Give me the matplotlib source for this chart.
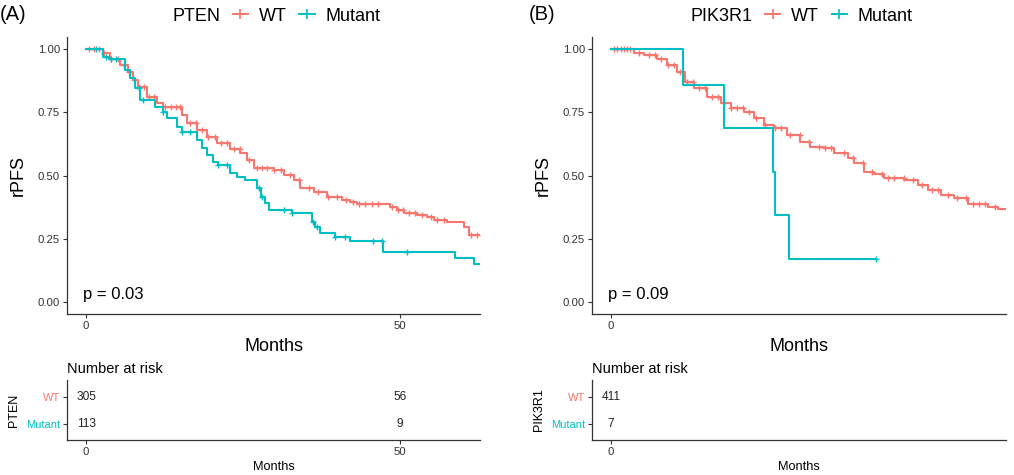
import numpy as np
import matplotlib
matplotlib.use('Agg')
import matplotlib.pyplot as plt
from matplotlib.lines import Line2D

plt.rcParams['font.family'] = ['Liberation Sans', 'DejaVu Sans']

red = '#F8766D'
teal = '#00BFC4'

# ---- PTEN panel (A), step curves ----
pten_wt_t = [0, 2.7, 3.8, 5.4, 6.7, 7.5, 8.3, 9.7, 11.3, 12.3, 12.9, 15.3, 16.1, 17.7, 19.3,
             20.8, 23.0, 24.6, 25.6, 26.7, 29.9, 31.5, 33.1, 34.1, 36.3, 38.4, 40.8, 42.1,
             43.2, 48.5, 49.6, 50.6, 52.7, 54.3, 55.4, 57.5, 60.2, 61.0, 64.0]
pten_wt_s = [1.0, 0.983, 0.959, 0.937, 0.91, 0.877, 0.849, 0.811, 0.785, 0.77, 0.77, 0.739,
             0.706, 0.68, 0.653, 0.63, 0.603, 0.588, 0.561, 0.528, 0.52, 0.502, 0.482, 0.449,
             0.436, 0.416, 0.403, 0.396, 0.387, 0.374, 0.364, 0.353, 0.344, 0.337, 0.324,
             0.318, 0.298, 0.265, 0.265]
pten_wt_cens = [0.5, 1.2, 2.0, 2.8, 4.0, 5.0, 6.0, 6.8, 7.6, 8.5, 9.3, 10.0, 10.8, 12.5, 13.5,
                14.3, 15.0, 16.5, 17.5, 18.5, 19.5, 20.5, 21.5, 22.5, 23.5, 24.5, 26.0, 27.3,
                28.0, 28.8, 30.0, 31.0, 32.5, 34.0, 35.5, 37.0, 38.5, 40.0, 41.5, 42.5, 43.5,
                44.5, 45.5, 46.5, 48.8, 49.8, 50.5, 51.5, 52.5, 53.5, 55.0, 56.0, 57.0, 61.3,
                62.3]

pten_mut_t = [0, 2.7, 3.6, 5.7, 6.2, 7.0, 7.8, 8.6, 11.0, 12.3, 12.9, 14.5, 15.3, 17.7, 18.5,
              19.3, 20.3, 21.1, 23.0, 24.0, 25.4, 27.2, 27.8, 28.5, 29.1, 32.8, 36.0, 36.5,
              37.3, 39.7, 42.1, 47.4, 58.8, 61.9, 64.0]
pten_mut_s = [1.0, 0.97, 0.96, 0.96, 0.917, 0.884, 0.845, 0.798, 0.772, 0.752, 0.726, 0.693,
              0.673, 0.64, 0.607, 0.581, 0.555, 0.541, 0.509, 0.495, 0.482, 0.449, 0.416, 0.39,
              0.364, 0.35, 0.317, 0.298, 0.271, 0.259, 0.242, 0.199, 0.173, 0.149, 0.149]
pten_mut_cens = [1.5, 3.2, 4.0, 4.8, 8.4, 9.0, 12.3, 15.3, 16.6, 21.1, 22.4, 27.5, 28.1, 31.6,
                 32.8, 36.2, 36.8, 39.7, 41.3, 45.8, 47.2, 51.1]

# ---- PIK3R1 panel (B) ----
pik_wt_t = [0, 3.6, 5.2, 7.3, 8.9, 10.5, 11.8, 13.1, 15.3, 17.4, 19.0, 21.1, 22.7, 24.3, 25.9,
            28.0, 30.1, 31.7, 33.9, 35.5, 37.6, 38.6, 40.2, 41.8, 43.4, 46.6, 48.8, 50.4, 52.5,
            54.6, 56.7, 59.9, 61.5, 64.0]
pik_wt_s = [1.0, 0.985, 0.976, 0.959, 0.937, 0.91, 0.871, 0.845, 0.811, 0.785, 0.766, 0.752,
            0.726, 0.7, 0.686, 0.66, 0.634, 0.614, 0.607, 0.588, 0.568, 0.548, 0.515, 0.506,
            0.489, 0.482, 0.462, 0.443, 0.423, 0.41, 0.387, 0.377, 0.366, 0.366]
pik_wt_cens = [0.5, 1.0, 1.5, 2.0, 2.5, 3.0, 4.5, 6.0, 7.0, 8.0, 9.0, 10.0, 11.0, 12.0, 13.0,
               14.0, 15.0, 16.0, 17.0, 18.0, 19.0, 20.0, 21.0, 22.0, 23.0, 24.5, 26.0, 27.0,
               28.5, 30.0, 31.5, 33.0, 34.0, 35.0, 37.0, 38.5, 40.0, 41.5, 43.0, 44.0, 45.0,
               46.5, 48.0, 49.5, 51.0, 52.0, 53.5, 55.0, 56.5, 57.5, 58.5, 59.5, 61.0]

pik_mut_t = [0, 11.5, 18.0, 25.8, 26.0, 28.3, 42.2]
pik_mut_s = [1.0, 0.857, 0.686, 0.514, 0.343, 0.172, 0.172]
pik_mut_cens = [42.2]

# numbers at risk
risk_times_a = [0, 50]
risk_wt_a = [305, 56]
risk_mut_a = [113, 9]
risk_times_b = [0]
risk_wt_b = [411]
risk_mut_b = [7]

groups = ['WT', 'Mutant']
tick_grey = '#333333'


def step_at(t, s, c):
    idx = np.searchsorted(t, c, side='right') - 1
    return np.asarray(s)[idx]


def km_panel(ax, curves, p_text, xticks):
    for t, s, cens, col in curves:
        ax.plot(t, s, drawstyle='steps-post', color=col, lw=1.5, clip_on=True)
        ax.plot(cens, step_at(t, s, cens), ls='none', marker='+', ms=4.5, mew=1.0, color=col)
    ax.set_xlim(-3.05, 62.8)
    ax.set_ylim(-0.047, 1.047)
    ax.set_xticks(xticks)
    ax.set_yticks([0, 0.25, 0.5, 0.75, 1.0])
    ax.set_yticklabels(['0.00', '0.25', '0.50', '0.75', '1.00'])
    ax.set_xlabel('Months', fontsize=13, labelpad=5)
    ax.set_ylabel('rPFS', fontsize=13, labelpad=8)
    ax.text(-0.5, 0.03, p_text, fontsize=12, va='center', ha='left')
    for sp in ['top', 'right']:
        ax.spines[sp].set_visible(False)
    for sp in ['left', 'bottom']:
        ax.spines[sp].set_linewidth(0.9)
        ax.spines[sp].set_color('#333333')
    ax.tick_params(labelsize=8.2, length=3, width=0.8, colors=tick_grey, pad=2)


def legend_top(ax, gene):
    handles = [Line2D([], [], color='none', label=gene),
               Line2D([], [], color=red, marker='+', ms=7, mew=1.2, lw=1.4, label='WT'),
               Line2D([], [], color=teal, marker='+', ms=7, mew=1.2, lw=1.4, label='Mutant')]
    ax.legend(handles=handles, ncol=3, loc='lower center', bbox_to_anchor=(0.475, 1.005),
              frameon=False, fontsize=13, handlelength=0.85, handletextpad=0.6,
              columnspacing=0.7, borderpad=0.1)


def risk_panel(ax, gene, times, wt, mut, xticks):
    for x, n in zip(times, wt):
        ax.text(x, 2, str(n), ha='center', va='center', fontsize=8.6, color='#222222')
    for x, n in zip(times, mut):
        ax.text(x, 1, str(n), ha='center', va='center', fontsize=8.6, color='#222222')
    ax.set_xlim(-3.05, 62.8)
    ax.set_ylim(0.43, 2.6)
    ax.set_xticks(xticks)
    ax.set_yticks([2, 1])
    ax.set_yticklabels(groups)
    for lab, col in zip(ax.get_yticklabels(), [red, teal]):
        lab.set_color(col)
    ax.set_xlabel('Months', fontsize=9.2, labelpad=3)
    ax.set_ylabel(gene, fontsize=9, labelpad=4)
    ax.set_title('Number at risk', loc='left', fontsize=10.5, pad=5)
    for sp in ['top', 'right']:
        ax.spines[sp].set_visible(False)
    for sp in ['left', 'bottom']:
        ax.spines[sp].set_linewidth(0.9)
        ax.spines[sp].set_color('#333333')
    ax.tick_params(axis='x', labelsize=8.2, length=3, width=0.8, colors=tick_grey, pad=2)
    ax.tick_params(axis='y', labelsize=8, length=3, width=0.8, color=tick_grey, pad=2)


fig = plt.figure(figsize=(10.14, 4.75), dpi=100)

axA = fig.add_axes([0.0661, 0.3389, 0.4073, 0.5832])
axB = fig.add_axes([0.5838, 0.3389, 0.4083, 0.5832])
rA = fig.add_axes([0.0661, 0.0737, 0.4073, 0.1263])
rB = fig.add_axes([0.5838, 0.0737, 0.4083, 0.1263])

km_panel(axA, [(pten_wt_t, pten_wt_s, pten_wt_cens, red),
               (pten_mut_t, pten_mut_s, pten_mut_cens, teal)], 'p = 0.03', [0, 50])
km_panel(axB, [(pik_wt_t, pik_wt_s, pik_wt_cens, red),
               (pik_mut_t, pik_mut_s, pik_mut_cens, teal)], 'p = 0.09', [0])
legend_top(axA, 'PTEN')
legend_top(axB, 'PIK3R1')

risk_panel(rA, 'PTEN', risk_times_a, risk_wt_a, risk_mut_a, [0, 50])
risk_panel(rB, 'PIK3R1', risk_times_b, risk_wt_b, risk_mut_b, [0])

fig.text(0.0, 1 - 14 / 475, '(A)', fontsize=14.5, va='center', ha='left')
fig.text(529 / 1014, 1 - 14 / 475, '(B)', fontsize=14.5, va='center', ha='left')

fig.savefig('out.png', dpi=100, facecolor='white')
